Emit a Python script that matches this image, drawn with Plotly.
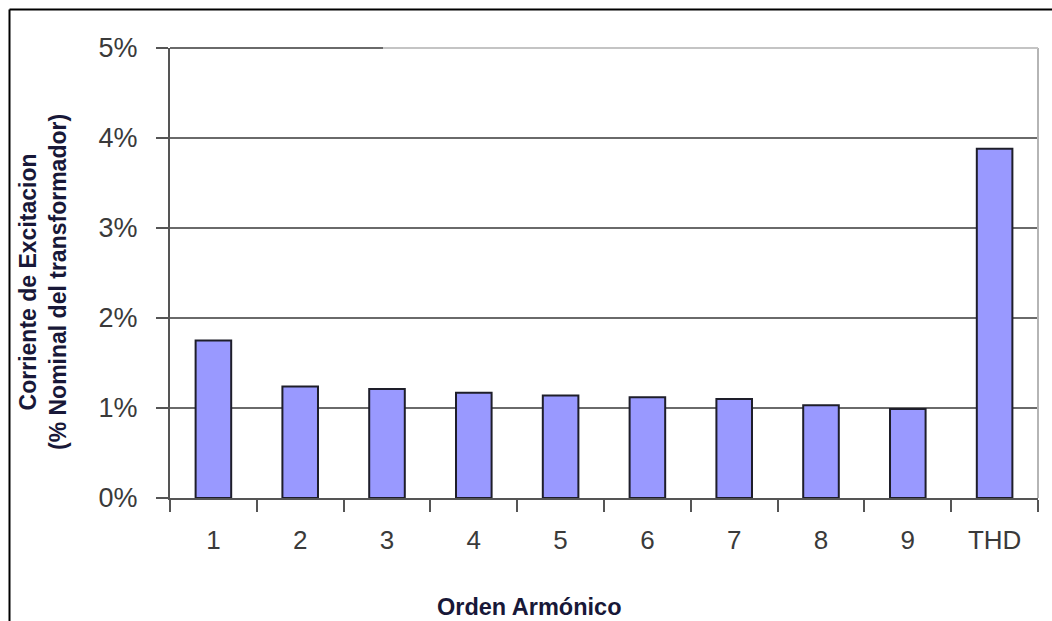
import plotly.graph_objects as go

categories = ["1", "2", "3", "4", "5", "6", "7", "8", "9", "THD"]
values = [1.75, 1.24, 1.21, 1.17, 1.14, 1.12, 1.10, 1.03, 0.99, 3.88]
y_ticks = [0, 1, 2, 3, 4, 5]
y_ticktext = ["0%", "1%", "2%", "3%", "4%", "5%"]
x_title = "Orden Armónico"
y_title_lines = ["Corriente de Excitacion", "(% Nominal del transformador)"]

W, H = 1052, 621
L, R, T, B = 170, 14, 48, 123
pw, ph = W - L - R, H - T - B

def px(x):
    return (x - L) / pw

def py(y):
    return (H - B - y) / ph

fig = go.Figure(
    go.Bar(
        x=categories,
        y=values,
        marker=dict(color="#9999FF", line=dict(color="#1e1e2a", width=2)),
        width=0.41,
    )
)

fig.update_layout(
    width=W,
    height=H,
    margin=dict(l=L, r=R, t=T, b=B),
    paper_bgcolor="white",
    plot_bgcolor="white",
    showlegend=False,
    font=dict(family="Liberation Sans, Arial, sans-serif"),
)

fig.update_xaxes(
    type="category",
    tickson="boundaries",
    ticks="outside",
    ticklen=12,
    tickwidth=2,
    tickcolor="#555555",
    showline=True,
    linecolor="#555555",
    linewidth=2,
    showgrid=False,
    tickfont=dict(size=26, color="#3a3a3a"),
    ticklabelstandoff=18,
)

fig.update_yaxes(
    range=[0, 5],
    tickvals=y_ticks,
    ticktext=y_ticktext,
    ticks="outside",
    ticklen=12,
    tickwidth=2,
    tickcolor="#555555",
    showline=True,
    linecolor="#555555",
    linewidth=2,
    showgrid=True,
    gridcolor="#6a6a6a",
    gridwidth=2,
    zeroline=False,
    tickfont=dict(size=27, color="#3a3a3a"),
    ticklabelstandoff=13,
)

shapes = [
    # right frame line (light gray)
    dict(type="line", xref="paper", yref="paper", x0=1, x1=1, y0=0, y1=1.0,
         line=dict(color="#b5b5b5", width=2)),
    # top frame: dark segment then light gray
    dict(type="line", xref="paper", yref="paper", x0=0, x1=px(383), y0=1, y1=1,
         line=dict(color="#6a6a6a", width=2)),
    dict(type="line", xref="paper", yref="paper", x0=px(383), x1=1, y0=1, y1=1,
         line=dict(color="#c4c4c4", width=2)),
    # outer page border: left and top
    dict(type="line", xref="paper", yref="paper", x0=px(9.5), x1=px(9.5), y0=py(621), y1=py(9.5),
         line=dict(color="black", width=2)),
    dict(type="line", xref="paper", yref="paper", x0=px(9.5), x1=px(1052), y0=py(9.5), y1=py(9.5),
         line=dict(color="black", width=2)),
]
fig.update_layout(shapes=shapes)

fig.add_annotation(
    text="<br>".join("<b>" + s + "</b>" for s in y_title_lines),
    xref="paper", yref="paper", x=px(43), y=py(282),
    textangle=-90, showarrow=False, xanchor="center", yanchor="middle",
    font=dict(size=23, color="#181838", family="Liberation Sans, Arial, sans-serif"),
)
fig.add_annotation(
    text="<b>" + x_title + "</b>", xref="paper", yref="paper", x=px(529), y=py(607),
    showarrow=False, xanchor="center", yanchor="middle",
    font=dict(size=23.5, color="#181838", family="Liberation Sans, Arial, sans-serif"),
)

fig.write_html("out.html")
